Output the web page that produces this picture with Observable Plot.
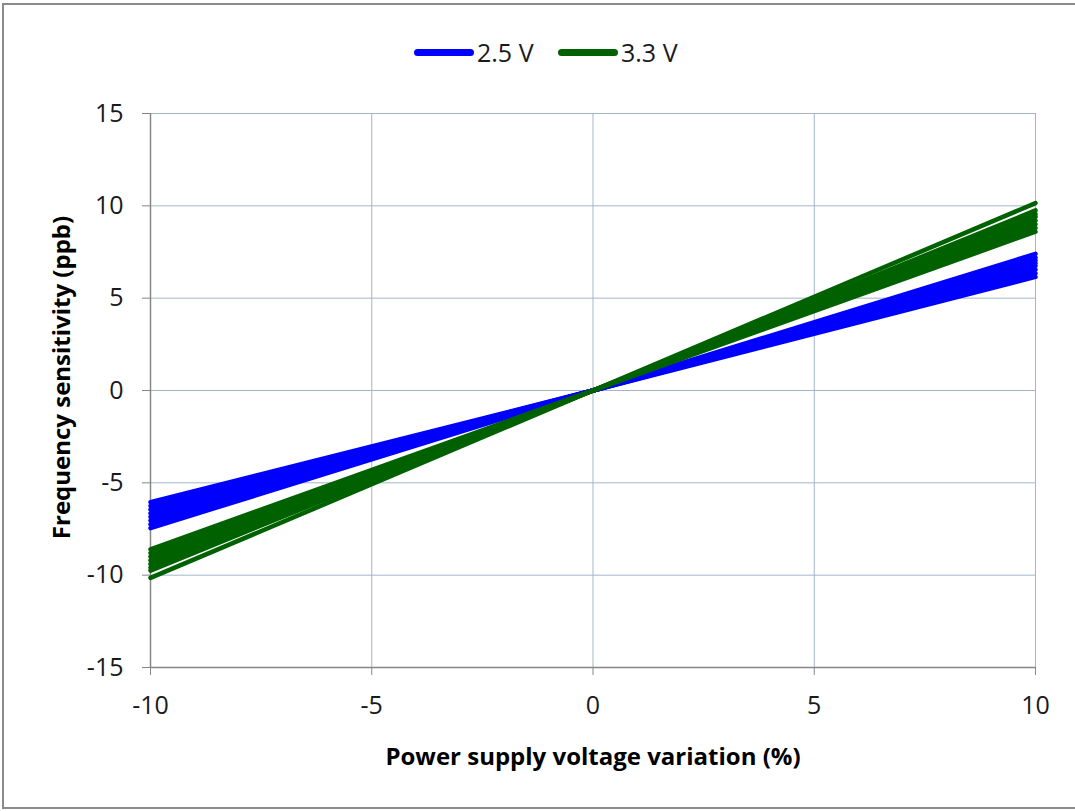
<!DOCTYPE html>
<html>
<head>
<meta charset="utf-8">
<script src="https://cdn.jsdelivr.net/npm/d3@7"></script>
<script src="https://cdn.jsdelivr.net/npm/@observablehq/plot@0.6"></script>
<style>
  html, body { margin: 0; padding: 0; background: #fff; }
  #wrap { position: relative; width: 1075px; height: 811px; overflow: hidden; font-family: "Open Sans", Lato, sans-serif; }
  #frame { position: absolute; left: 2px; top: 3px; width: 1100px; height: 802px; border: 2px solid #8a8a8a; }
  #legend { position: absolute; left: 0; top: 0; width: 1075px; height: 90px; }
  .item { position: absolute; top: 36px; height: 32px; display: flex; align-items: center; font-size: 25px; color: #1a1a1a; white-space: nowrap; }
  .sw { display: inline-block; width: 60px; height: 7px; border-radius: 3.5px; margin-right: 3px; }
  #chart { position: absolute; left: 0; top: 90px; }
</style>
</head>
<body>
<div id="wrap">
  <div id="frame"></div>
  <div id="legend"></div>
  <div id="chart"></div>
</div>
<script>
// Data
const xPercent = [-10, 0, 10];            // power supply voltage variation (%)
const xTicks = [-10, -5, 0, 5, 10];
const yTicks = [-15, -10, -5, 0, 5, 10, 15];
const seriesNames = ["2.5 V", "3.3 V"];
const seriesColors = ["#0000ff", "#006100"];
// Frequency sensitivity (ppb) at -10 %, 0 %, +10 % for each measured unit
const lines25 = [
  [-6.05, 0, 6.15],
  [-6.25, 0, 6.35],
  [-6.45, 0, 6.55],
  [-6.65, 0, 6.75],
  [-6.85, 0, 6.9],
  [-7.05, 0, 7.05],
  [-7.25, 0, 7.2],
  [-7.45, 0, 7.4]
];
const lines33 = [
  [-8.6, 0, 8.6],
  [-8.8, 0, 8.8],
  [-9.0, 0, 9.0],
  [-9.2, 0, 9.2],
  [-9.4, 0, 9.4],
  [-9.6, 0, 9.55],
  [-9.75, 0, 9.75],
  [-10.15, 0, 10.15]
];
const xLabel = "Power supply voltage variation (%)";
const yLabel = "Frequency sensitivity (ppb)";

// Build table for Plot
const rows = [];
[[seriesNames[0], lines25], [seriesNames[1], lines33]].forEach(([name, ls]) => {
  ls.forEach((vals, i) => {
    vals.forEach((v, j) => rows.push({series: name, unit: name + "-" + i, x: xPercent[j], y: v}));
  });
});

// Legend
const legend = document.getElementById("legend");
const legendPos = [414, 558];
seriesNames.forEach((name, i) => {
  const it = document.createElement("div");
  it.className = "item";
  it.style.left = legendPos[i] + "px";
  const sw = document.createElement("span");
  sw.className = "sw";
  sw.style.background = seriesColors[i];
  it.appendChild(sw);
  it.appendChild(document.createTextNode(name));
  legend.appendChild(it);
});

const gridColor = "#a3b5cb";
const axisColor = "#868686";
const textColor = "#1a1a1a";
const fmt = d => String(d);

const chart = Plot.plot({
  width: 1075,
  height: 721,
  marginTop: 23,
  marginBottom: 144,
  marginLeft: 150,
  marginRight: 40,
  style: {fontFamily: "'Open Sans', Lato, sans-serif", fontSize: "25px", background: "transparent"},
  x: {domain: [-10, 10]},
  y: {domain: [-15, 15]},
  color: {domain: seriesNames, range: seriesColors},
  marks: [
    Plot.gridX(xTicks, {stroke: gridColor, strokeOpacity: 1, strokeWidth: 1}),
    Plot.gridY(yTicks, {stroke: gridColor, strokeOpacity: 1, strokeWidth: 1}),
    Plot.ruleX([-10], {stroke: axisColor, strokeWidth: 1.5}),
    Plot.ruleY([-15], {stroke: axisColor, strokeWidth: 1.5}),
    Plot.axisX(xTicks, {tickSize: 8, tickPadding: 21, label: null, tickFormat: fmt, stroke: axisColor, fill: textColor, fontSize: 25}),
    Plot.axisY(yTicks, {tickSize: 8, tickPadding: 19, label: null, tickFormat: fmt, stroke: axisColor, fill: textColor, fontSize: 25}),
    Plot.line(rows, {x: "x", y: "y", z: "unit", stroke: "series", strokeWidth: 4.5}),
    Plot.text([xLabel], {frameAnchor: "bottom", textAnchor: "middle", dy: 97, fontWeight: "bold", fontSize: 24, fill: "#000"}),
    Plot.text([yLabel], {frameAnchor: "left", textAnchor: "middle", dx: -88, dy: -13, rotate: -90, fontWeight: "bold", fontSize: 24, fill: "#000"})
  ]
});
document.getElementById("chart").appendChild(chart);
</script>
</body>
</html>
